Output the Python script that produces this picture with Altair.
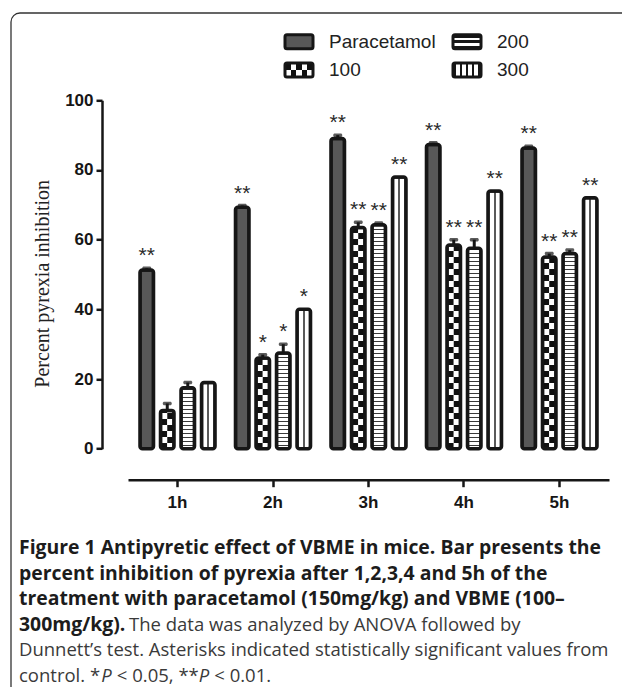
import altair as alt
import pandas as pd

# ---------------- data ----------------
hours = ["1h", "2h", "3h", "4h", "5h"]
series = ["Paracetamol", "100", "200", "300"]

paracetamol = [51.3, 69.3, 89.0, 87.3, 86.3]
paracetamol_sem = [0.5, 0.5, 1.0, 0.5, 0.5]
dose_100 = [11.0, 26.0, 63.5, 58.5, 55.0]
dose_100_sem = [2.0, 1.0, 1.5, 1.5, 1.0]
dose_200 = [17.5, 27.5, 64.3, 57.5, 56.0]
dose_200_sem = [1.5, 2.5, 0.5, 2.5, 1.0]
dose_300 = [19.0, 40.0, 78.0, 74.0, 72.0]
dose_300_sem = [0.0, 0.0, 0.0, 0.0, 0.0]

stars_paracetamol = ["**", "**", "**", "**", "**"]
stars_100 = ["", "*", "**", "**", "**"]
stars_200 = ["", "*", "**", "**", "**"]
stars_300 = ["", "*", "**", "**", "**"]

y_title = "Percent pyrexia inhibition"
y_ticks = [0, 20, 40, 60, 80, 100]

caption_bold = [
    "Figure 1 Antipyretic effect of VBME in mice. Bar presents the",
    "percent inhibition of pyrexia after 1,2,3,4 and 5h of the",
    "treatment with paracetamol (150mg/kg) and VBME (100\u2013",
    "300mg/kg).",
]
caption_regular_line4 = "The data was analyzed by ANOVA followed by"
caption_regular_line5 = "Dunnett\u2019s test. Asterisks indicated statistically significant values from"
caption_line6 = ["control. *", "P", "< 0.05, **", "P", "< 0.01."]

values = {"Paracetamol": paracetamol, "100": dose_100, "200": dose_200, "300": dose_300}
sems = {"Paracetamol": paracetamol_sem, "100": dose_100_sem, "200": dose_200_sem, "300": dose_300_sem}
stars = {"Paracetamol": stars_paracetamol, "100": stars_100, "200": stars_200, "300": stars_300}

rows = []
for s in series:
    for i, h in enumerate(hours):
        rows.append({"hour": h, "series": s, "value": values[s][i], "sem": sems[s][i], "star": stars[s][i]})
df = pd.DataFrame(rows)

# ---------------- layout ----------------
W, H = 481, 348.4
PX = H / 100.0
PAD = {"left": 120, "top": 92.3, "right": 13, "bottom": 238.3}


def gx(px):
    return px - 8 - PAD["left"]


def gy(py):
    return py - 8 - PAD["top"]


INK = "#161616"

# band geometry (groups, bars inside groups, and half columns of the 100 mg/kg bar)
X_PI, X_PO = 0.162, 0.0995
O_PI, O_PO = 0.34, 0.121
step_x = W / (len(hours) - X_PI + 2 * X_PO)
group_band = step_x * (1 - X_PI)
step_o = group_band / (len(series) - O_PI + 2 * O_PO)
bar_band = step_o * (1 - O_PI)
half_w = bar_band / 2.0
N_SLOTS = 10
half_po = (group_band / half_w - N_SLOTS) / 2.0
bar1_start = step_o * (O_PO + 1)
half_align = (bar1_start - 2 * half_w) / (group_band - N_SLOTS * half_w)
slots = ["s0", "s1", "L", "R"] + [f"s{k}" for k in range(4, N_SLOTS)]

xscale = alt.Scale(domain=hours, paddingInner=X_PI, paddingOuter=X_PO)
oscale = alt.Scale(domain=series, paddingInner=O_PI, paddingOuter=O_PO)
hscale = alt.Scale(domain=slots, paddingInner=0, paddingOuter=half_po, align=half_align)
yscale = alt.Scale(domain=[0, 100], nice=False)

xaxis = alt.Axis(offset=31, domainColor=INK, domainWidth=2.5, tickColor=INK, tickWidth=2.5,
                 tickSize=7, labelFont="Liberation Sans", labelFontWeight="bold", labelFontSize=17,
                 labelColor=INK, labelPadding=8, labelAngle=0, title=None)
yaxis = alt.Axis(offset=26, values=y_ticks, domainColor=INK, domainWidth=2.5, tickColor=INK,
                 tickWidth=2.5, tickSize=6, labelFont="Liberation Sans", labelFontWeight="bold",
                 labelFontSize=17, labelColor=INK, labelPadding=3, grid=False,
                 titleFont="Liberation Serif", titleFontSize=20, titleFontWeight="normal",
                 titleColor="#222222", titlePadding=12, titleY=183)


def X(show=True):
    if show:
        return alt.X("hour:N", scale=xscale, axis=xaxis, title=None)
    return alt.X("hour:N", scale=xscale, axis=None)


def XO():
    return alt.XOffset("series:N", scale=oscale)


def Y(field="value", show=True):
    if show:
        return alt.Y(f"{field}:Q", scale=yscale, axis=yaxis, title=y_title)
    return alt.Y(f"{field}:Q", scale=yscale, axis=None)


def pattern_stops(total, seq):
    stops = []
    pos = 0.0
    i = 0
    while pos < total - 1e-6:
        length, color = seq[i % len(seq)]
        end = min(pos + length, total)
        stops.append({"offset": round(pos / total, 5), "color": color})
        stops.append({"offset": round(end / total, 5), "color": color})
        pos = end
        i += 1
    return stops


def vgrad(total, seq):
    return {"gradient": "linear", "x1": 0, "y1": 1, "x2": 0, "y2": 0, "stops": pattern_stops(total, seq)}


def hgrad(total, seq):
    return {"gradient": "linear", "x1": 0, "y1": 0, "x2": 1, "y2": 0, "stops": pattern_stops(total, seq)}


base = alt.Chart(df)

# ---- 100 mg/kg: checkerboard made of two half columns ----
CELL = 6.0
half_layers = []
for i, h in enumerate(hours):
    hp = dose_100[i] * PX
    for side in ("L", "R"):
        seq = [(CELL, "#111111"), (CELL, "#ffffff")] if side == "L" else [(CELL, "#ffffff"), (CELL, "#111111")]
        half_layers.append(
            base.transform_filter(f"datum.series == '100' && datum.hour == '{h}'")
            .transform_calculate(half=f"'{side}'")
            .mark_bar(fill=vgrad(hp, seq))
            .encode(x=X(False), xOffset=alt.XOffset("half:N", scale=hscale), y=Y(show=False))
        )
halves = alt.layer(*half_layers)

# ---- main layers ----
layers = []
frame = alt.Chart(pd.DataFrame({"k": [0]})).mark_rect(
    fillOpacity=0, stroke="#333333", strokeWidth=1.3, cornerRadius=9
).encode(x=alt.value(gx(11)), x2=alt.value(gx(640)), y=alt.value(gy(13)), y2=alt.value(gy(760)))
layers.append(frame)

layers.append(base.transform_filter("datum.series == 'Paracetamol'").mark_bar(fill="#585858")
              .encode(x=X(), xOffset=XO(), y=Y()))

for i, h in enumerate(hours):
    hp = dose_200[i] * PX
    layers.append(
        base.transform_filter(f"datum.series == '200' && datum.hour == '{h}'")
        .mark_bar(fill=vgrad(hp, [(2.4, "#ffffff"), (1.6, "#3a3a3a")]))
        .encode(x=X(), xOffset=XO(), y=Y())
    )

layers.append(
    base.transform_filter("datum.series == '300'")
    .mark_bar(fill=hgrad(bar_band, [(5.8, "#ffffff"), (1.9, "#5a5a5a"), (5.8, "#ffffff")]))
    .encode(x=X(), xOffset=XO(), y=Y())
)

layers.append(base.mark_bar(fillOpacity=0, stroke=INK, strokeWidth=3.5, cornerRadius=2.5)
              .encode(x=X(), xOffset=XO(), y=Y()))

err = base.transform_filter("datum.sem > 0").transform_calculate(top="datum.value + datum.sem")
layers.append(err.mark_rule(strokeWidth=3, color=INK)
              .encode(x=X(), xOffset=XO(), y=Y("value"), y2="top:Q"))
layers.append(err.mark_tick(size=9, thickness=3.5, color=INK, cornerRadius=1.5)
              .encode(x=X(), xOffset=XO(), y=Y("top")))

layers.append(
    base.transform_calculate(top="datum.value + datum.sem")
    .mark_text(font="Liberation Sans", fontSize=21, dy=-6, baseline="alphabetic", color="#2a2a2a")
    .encode(x=X(), xOffset=XO(), y=Y("top"), text="star:N")
)

# caption
cap = alt.Chart(pd.DataFrame({"k": [0]}))
BL1 = 554
LH = 25.5
FS_B = 19.4
FS_R = 18.5
layers.append(cap.mark_text(text=caption_bold, lineHeight=LH, align="left", baseline="alphabetic",
                            font="Open Sans", fontSize=FS_B, fontWeight="bold", color="#1c1c1c")
              .encode(x=alt.value(gx(19)), y=alt.value(gy(BL1))))
layers.append(cap.mark_text(text=caption_regular_line4, align="left", baseline="alphabetic",
                            font="Open Sans", fontSize=FS_R, color="#3a3a3a")
              .encode(x=alt.value(gx(129)), y=alt.value(gy(BL1 + 3 * LH))))
layers.append(cap.mark_text(text=caption_regular_line5, align="left", baseline="alphabetic",
                            font="Open Sans", fontSize=FS_R, color="#3a3a3a")
              .encode(x=alt.value(gx(19)), y=alt.value(gy(BL1 + 4 * LH))))
# advance of each segment (em) plus the following space where the next segment starts after one
seg_adv = [4.444, 0.586 + 0.26, 4.42, 0.586 + 0.26, 0.0]
xpos = 19.0
for k, seg in enumerate(caption_line6):
    layers.append(cap.mark_text(text=seg, align="left", baseline="alphabetic", font="Open Sans",
                                fontSize=FS_R, fontStyle="italic" if seg == "P" else "normal",
                                color="#3a3a3a")
                  .encode(x=alt.value(gx(xpos)), y=alt.value(gy(BL1 + 5 * LH))))
    xpos += seg_adv[k] * FS_R

main = alt.layer(*layers)

# ---------------- legend (two columns) ----------------
LEG_X0, LEG_DX = gx(285), 168.0
LEG_Y0, LEG_DY = gy(41.7), 28.3
SWF = 28.0 / LEG_DX
SHF = 7.0 / LEG_DY
TXF = 44.0 / LEG_DX
lxs = alt.Scale(domain=[0, 1], range=[LEG_X0, LEG_X0 + LEG_DX], nice=False, zero=False)
lys = alt.Scale(domain=[0, 1], range=[LEG_Y0, LEG_Y0 + LEG_DY], nice=False, zero=False)

leg_df = pd.DataFrame({"series": series, "idx": list(range(len(series)))})
lb = alt.Chart(leg_df).transform_calculate(
    col="floor(datum.idx / 2)",
    row="datum.idx % 2",
).transform_calculate(
    cx2=f"datum.col + {SWF}",
    ry1=f"datum.row - {SHF}",
    ry2=f"datum.row + {SHF}",
    tx=f"datum.col + {TXF}",
)


def LX(f="col"):
    return alt.X(f"{f}:Q", scale=lxs, axis=None)


def LY(f):
    return alt.Y(f"{f}:Q", scale=lys, axis=None)


leg_layers = []
leg_layers.append(lb.transform_filter("datum.series == 'Paracetamol'").mark_rect(fill="#585858")
                  .encode(x=LX(), x2="cx2:Q", y=LY("ry1"), y2="ry2:Q"))
leg_layers.append(lb.transform_filter("datum.series == '100'").mark_rect(
    fill=hgrad(28.0, [(5.6, "#111111"), (5.6, "#ffffff")]))
    .encode(x=LX(), x2="cx2:Q", y=LY("ry1"), y2="row:Q"))
leg_layers.append(lb.transform_filter("datum.series == '100'").mark_rect(
    fill=hgrad(28.0, [(5.6, "#ffffff"), (5.6, "#111111")]))
    .encode(x=LX(), x2="cx2:Q", y=LY("row"), y2="ry2:Q"))
leg_layers.append(lb.transform_filter("datum.series == '200'").mark_rect(
    fill=vgrad(14.0, [(3.0, "#161616"), (2.5, "#ffffff"), (3.0, "#161616"), (2.5, "#ffffff"), (3.0, "#161616")]))
    .encode(x=LX(), x2="cx2:Q", y=LY("ry1"), y2="ry2:Q"))
leg_layers.append(lb.transform_filter("datum.series == '300'").mark_rect(
    fill=hgrad(28.0, [(3.0, "#161616"), (4.0, "#ffffff"), (2.0, "#161616"), (4.0, "#ffffff"),
                      (2.0, "#161616"), (4.0, "#ffffff"), (2.0, "#161616"), (4.0, "#ffffff"),
                      (3.0, "#161616")]))
    .encode(x=LX(), x2="cx2:Q", y=LY("ry1"), y2="ry2:Q"))
leg_layers.append(lb.mark_rect(fillOpacity=0, stroke=INK, strokeWidth=3, cornerRadius=2)
                  .encode(x=LX(), x2="cx2:Q", y=LY("ry1"), y2="ry2:Q"))
leg_layers.append(lb.mark_text(align="left", baseline="middle", font="Liberation Sans", fontSize=19,
                               color="#222222")
                  .encode(x=LX("tx"), y=LY("row"), text="series:N"))
legend = alt.layer(*leg_layers)

chart = (
    alt.layer(halves, main, legend)
    .resolve_scale(x="independent", y="independent", xOffset="independent")
    .properties(width=W, height=H, padding=PAD, autosize=alt.AutoSizeParams(type="none"),
                background="white")
    .configure_view(strokeWidth=0)
)

chart.save("out.html", embed_options={"renderer": "svg", "actions": False})
